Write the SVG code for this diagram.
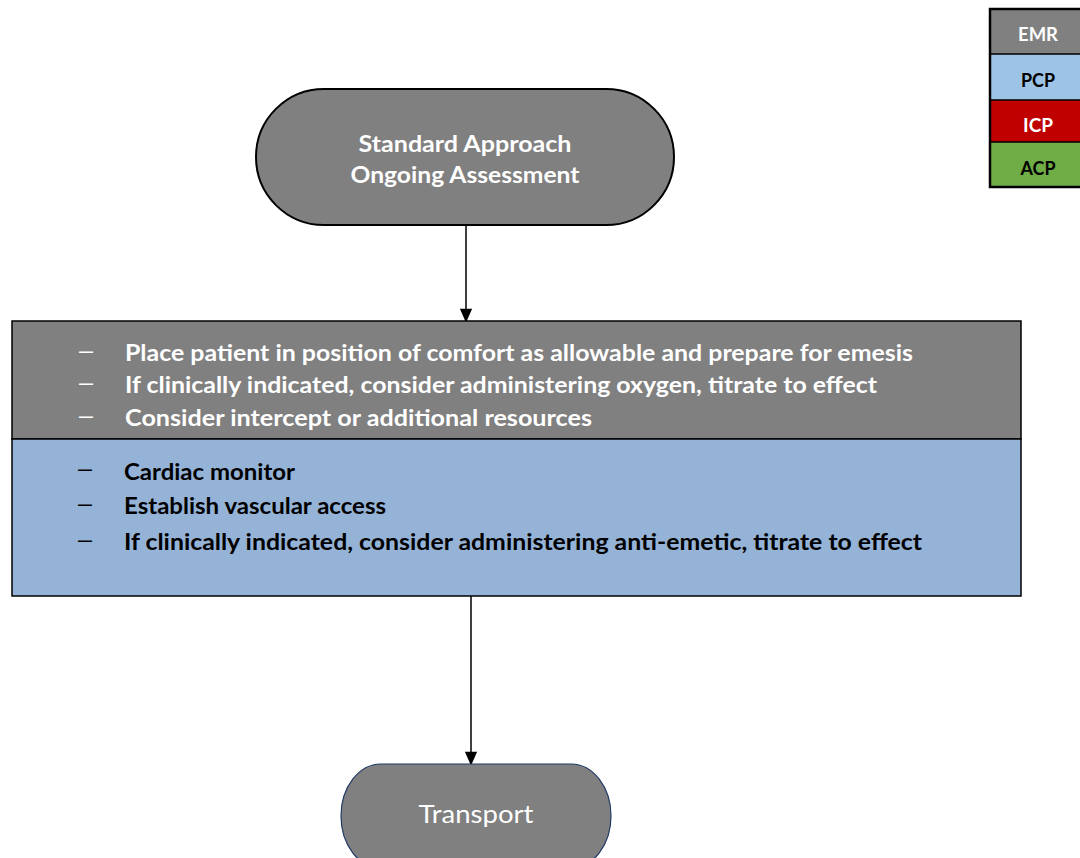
<svg xmlns="http://www.w3.org/2000/svg" width="1080" height="858" viewBox="0 0 1080 858">
<style>
.t{font-family:Lato,"Liberation Sans",sans-serif;font-weight:bold}
.w{fill:#fff}
.k{fill:#000}
.leg{font-family:Lato,"Liberation Sans",sans-serif;font-weight:bold;font-size:18px;text-anchor:middle}
.item{font-family:Lato,"Liberation Sans",sans-serif;font-weight:bold;font-size:22.5px}
.dash{font-family:"Liberation Sans",sans-serif;font-size:22px}
.conn{stroke:#000;stroke-width:1.5;fill:none;marker-end:url(#ah)}
</style>
<defs>
<marker id="ah" viewBox="0 0 14 16" refX="14" refY="7" markerWidth="16" markerHeight="14" markerUnits="userSpaceOnUse" orient="auto"><path d="M0,0 L16,7 L0,14 z" fill="#000"/></marker>
</defs>
<rect width="1080" height="858" fill="#fff"/>

<g id="legend">
<rect x="990" y="54" width="92" height="46" fill="#9DC3E6"/>
<rect x="990" y="9" width="92" height="45" fill="#808080"/>
<rect x="990" y="100" width="92" height="42" fill="#C00000"/>
<rect x="990" y="142" width="92" height="45" fill="#70AD47"/>
<line x1="990" y1="54" x2="1080" y2="54" stroke="#000" stroke-width="1.5"/>
<line x1="990" y1="100" x2="1080" y2="100" stroke="#000" stroke-width="1.5"/>
<line x1="990" y1="142" x2="1080" y2="142" stroke="#000" stroke-width="1.5"/>
<rect x="990" y="9" width="92" height="178" fill="none" stroke="#000" stroke-width="2.5"/>
<text class="leg w" x="1038" y="41" textLength="40" lengthAdjust="spacingAndGlyphs">EMR</text>
<text class="leg k" x="1038" y="87" textLength="34" lengthAdjust="spacingAndGlyphs">PCP</text>
<text class="leg w" x="1038" y="132" textLength="30" lengthAdjust="spacingAndGlyphs">ICP</text>
<text class="leg k" x="1038" y="175" textLength="35" lengthAdjust="spacingAndGlyphs">ACP</text>
</g>

<g id="connectors">
<line class="conn" x1="466" y1="225" x2="466" y2="321"/>
<line class="conn" x1="471" y1="596" x2="471" y2="764"/>
</g>

<g id="start">
<rect x="256" y="89" width="418" height="136" rx="68" ry="68" fill="#808080" stroke="#000" stroke-width="2"/>
<text class="t w" font-size="22.5" x="465" y="152" text-anchor="middle" textLength="213" lengthAdjust="spacingAndGlyphs">Standard Approach</text>
<text class="t w" font-size="22.5" x="465" y="183" text-anchor="middle" textLength="229" lengthAdjust="spacingAndGlyphs">Ongoing Assessment</text>
</g>

<g id="emr-box">
<rect x="12" y="321" width="1009" height="118" fill="#808080" stroke="#000" stroke-width="1.5"/>
<text class="dash w" x="79" y="358" textLength="14" lengthAdjust="spacingAndGlyphs">–</text>
<text class="item w" x="125" y="361" textLength="788" lengthAdjust="spacingAndGlyphs">Place patient in position of comfort as allowable and prepare for emesis</text>
<text class="dash w" x="79" y="390" textLength="14" lengthAdjust="spacingAndGlyphs">–</text>
<text class="item w" x="125" y="393" textLength="752" lengthAdjust="spacingAndGlyphs">If clinically indicated, consider administering oxygen, titrate to effect</text>
<text class="dash w" x="79" y="423" textLength="14" lengthAdjust="spacingAndGlyphs">–</text>
<text class="item w" x="125" y="426" textLength="467" lengthAdjust="spacingAndGlyphs">Consider intercept or additional resources</text>
</g>

<g id="pcp-box">
<rect x="12" y="439" width="1009" height="157" fill="#95B3D7" stroke="#000" stroke-width="1.5"/>
<text class="dash k" x="78" y="476" textLength="14" lengthAdjust="spacingAndGlyphs">–</text>
<text class="item k" x="124" y="480" textLength="171" lengthAdjust="spacingAndGlyphs">Cardiac monitor</text>
<text class="dash k" x="78" y="511" textLength="14" lengthAdjust="spacingAndGlyphs">–</text>
<text class="item k" x="124" y="514" textLength="262" lengthAdjust="spacingAndGlyphs">Establish vascular access</text>
<text class="dash k" x="78" y="547" textLength="14" lengthAdjust="spacingAndGlyphs">–</text>
<text class="item k" x="124" y="550" textLength="798" lengthAdjust="spacingAndGlyphs">If clinically indicated, consider administering anti-emetic, titrate to effect</text>
</g>

<g id="transport">
<rect x="341" y="764" width="270" height="104" rx="40" ry="52" fill="#808080" stroke="#1F3864" stroke-width="1.2"/>
<text font-family="Lato,'Liberation Sans',sans-serif" font-size="25" fill="#fff" x="476" y="823" text-anchor="middle" textLength="115" lengthAdjust="spacingAndGlyphs">Transport</text>
</g>
</svg>
